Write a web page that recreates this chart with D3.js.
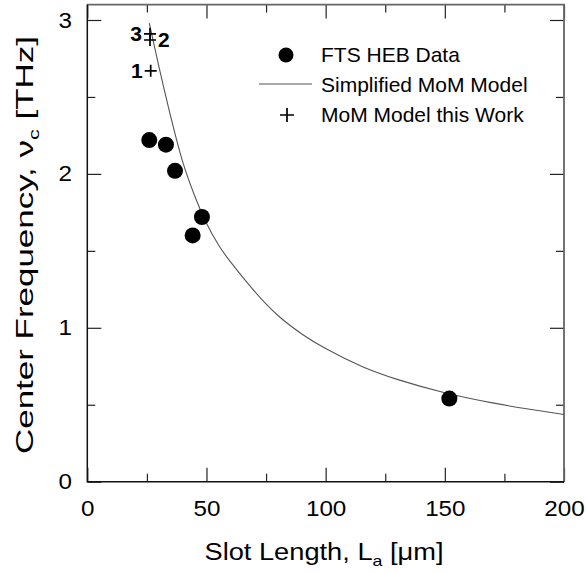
<!DOCTYPE html>
<html>
<head>
<meta charset="utf-8">
<script src="https://cdn.jsdelivr.net/npm/d3@7"></script>
<style>
  body { margin: 0; background: #fff; }
  text { font-family: "Liberation Sans", Arial, sans-serif; }
</style>
</head>
<body>
<div id="chart"></div>
<script>
// Measured data (FTS HEB)
var hebLength = [26.0, 33.0, 36.8, 44.2, 48.1, 151.9];
var hebFreq = [2.22, 2.19, 2.02, 1.60, 1.72, 0.54];

// MoM model this work (labelled points)
var momLabels = ["1", "2", "3"];
var momLength = [26.6, 26.3, 26.3];
var momFreq = [2.67, 2.87, 2.91];

// Simplified MoM model curve
var simpleLength = [26, 28, 30, 33, 36, 40, 45, 50, 55, 60, 70, 80, 90, 100, 115, 130, 150, 170, 185, 200];
var simpleFreq = [2.98, 2.84, 2.70, 2.50, 2.31, 2.08, 1.86, 1.68, 1.54, 1.43, 1.24, 1.08, 0.96, 0.865, 0.75, 0.665, 0.578, 0.512, 0.472, 0.437];

var xMajor = [0, 50, 100, 150, 200],
  xMinor = [25, 75, 125, 175],
  yMajor = [0, 1, 2, 3],
  yMinor = [0.5, 1.5, 2.5];

var legendItems = ["FTS HEB Data", "Simplified MoM Model", "MoM Model this Work"];

var width = 586, height = 573;
var plotLeft = 87.3, plotRight = 564, plotTop = 4.6, plotBottom = 481.7;

var x = d3.scaleLinear().domain([0, 200]).range([plotLeft, plotRight]);
var y = d3.scaleLinear().domain([0, 3.1]).range([plotBottom, plotTop]);

var svg = d3.select("#chart").append("svg")
  .attr("width", width)
  .attr("height", height);

var fontSize = 22, stretch = 1.1;

// ticks, all pointing inward
function drawAxis(axis, transform, labels) {
  var g = svg.append("g").attr("transform", transform).call(axis);
  g.select(".domain").remove();
  g.selectAll(".tick line").attr("stroke", "#222").attr("stroke-width", 1.2);
  if (!labels) g.selectAll(".tick text").remove();
  else g.selectAll(".tick text").attr("fill", "#000").style("font-size", fontSize + "px")
    .style("font-family", '"Liberation Sans", Arial, sans-serif')
    .attr("transform", "scale(" + stretch + ",1)");
  return g;
}

drawAxis(d3.axisBottom(x).tickValues(xMajor).tickSize(-14).tickPadding(19).tickFormat(d3.format("d")), "translate(0," + plotBottom + ")", true);
drawAxis(d3.axisBottom(x).tickValues(xMinor).tickSize(-8), "translate(0," + plotBottom + ")", false);
drawAxis(d3.axisTop(x).tickValues(xMajor).tickSize(-14), "translate(0," + plotTop + ")", false);
drawAxis(d3.axisTop(x).tickValues(xMinor).tickSize(-8), "translate(0," + plotTop + ")", false);
drawAxis(d3.axisLeft(y).tickValues(yMajor).tickSize(-14).tickPadding(14).tickFormat(d3.format("d")), "translate(" + plotLeft + ",0)", true);
drawAxis(d3.axisLeft(y).tickValues(yMinor).tickSize(-8), "translate(" + plotLeft + ",0)", false);
drawAxis(d3.axisRight(y).tickValues(yMajor).tickSize(-14), "translate(" + plotRight + ",0)", false);
drawAxis(d3.axisRight(y).tickValues(yMinor).tickSize(-8), "translate(" + plotRight + ",0)", false);

// frame: left/bottom darker than top/right
svg.append("path")
  .attr("d", "M" + plotLeft + "," + plotTop + "H" + plotRight + "V" + plotBottom)
  .attr("fill", "none").attr("stroke", "#666").attr("stroke-width", 1.8);
svg.append("path")
  .attr("d", "M" + plotLeft + "," + plotTop + "V" + plotBottom + "H" + plotRight)
  .attr("fill", "none").attr("stroke", "#111").attr("stroke-width", 1.5);

// axis titles
var xt = svg.append("text")
  .attr("x", 324).attr("y", 560)
  .attr("text-anchor", "middle")
  .attr("textLength", 239)
  .attr("lengthAdjust", "spacingAndGlyphs")
  .style("font-size", "23px");
xt.append("tspan").text("Slot Length, L");
xt.append("tspan").attr("dy", 6).style("font-size", "15px").text("a");
xt.append("tspan").attr("dy", -6).text(" [\u03bcm]");

var yt = svg.append("text")
  .attr("transform", "translate(33,245) rotate(-90)")
  .attr("text-anchor", "middle")
  .attr("textLength", 418)
  .attr("lengthAdjust", "spacingAndGlyphs")
  .style("font-size", "24px");
yt.append("tspan").text("Center Frequency, \u03bd");
yt.append("tspan").attr("dy", 6).style("font-size", "15px").text("c");
yt.append("tspan").attr("dy", -6).text(" [THz]");

// simplified model curve
var simpleData = simpleLength.map(function(d, i) { return { L: d, f: simpleFreq[i] }; });
var line = d3.line()
  .x(function(d) { return x(d.L); })
  .y(function(d) { return y(d.f); })
  .curve(d3.curveNatural);
svg.append("path")
  .datum(simpleData)
  .attr("d", line)
  .attr("fill", "none")
  .attr("stroke", "#555")
  .attr("stroke-width", 1.1);

// measured points
svg.selectAll(".heb")
  .data(hebLength)
  .enter().append("circle")
    .attr("class", "heb")
    .attr("cx", function(d) { return x(d); })
    .attr("cy", function(d, i) { return y(hebFreq[i]); })
    .attr("r", 8)
    .attr("fill", "#000");

// MoM crosses
var cross = 6;
function plusPath(cx, cy, s) {
  return "M" + (cx - s) + "," + cy + "H" + (cx + s) + "M" + cx + "," + (cy - s) + "V" + (cy + s);
}
svg.selectAll(".mom")
  .data(momLength)
  .enter().append("path")
    .attr("class", "mom")
    .attr("d", function(d, i) { return plusPath(x(d), y(momFreq[i]), cross); })
    .attr("stroke", "#000")
    .attr("stroke-width", 1.7);

// point numbers: 1 and 3 to the left, 2 to the right
svg.selectAll(".momlabel")
  .data(momLabels)
  .enter().append("text")
    .attr("class", "momlabel")
    .attr("x", function(d, i) { return i == 1 ? x(momLength[i]) + 8 : x(momLength[i]) - 8; })
    .attr("y", function(d, i) { return y(momFreq[i]) + 7; })
    .attr("text-anchor", function(d, i) { return i == 1 ? "start" : "end"; })
    .style("font-size", "21px")
    .style("font-weight", "bold")
    .text(function(d) { return d; });

// legend
var legend = svg.append("g").attr("transform", "translate(286,55)");
legend.append("circle").attr("cx", 0).attr("cy", 0).attr("r", 7.5).attr("fill", "#000");
legend.append("line").attr("x1", -27).attr("x2", 26).attr("y1", 29).attr("y2", 29)
  .attr("stroke", "#555").attr("stroke-width", 1.1);
legend.append("path").attr("d", plusPath(1, 60, 7)).attr("stroke", "#000").attr("stroke-width", 1.7);
legend.selectAll("text")
  .data(legendItems)
  .enter().append("text")
    .attr("x", 35)
    .attr("y", function(d, i) { return 7 + i * 30; })
    .style("font-size", "21px")
    .text(function(d) { return d; });
</script>
</body>
</html>
